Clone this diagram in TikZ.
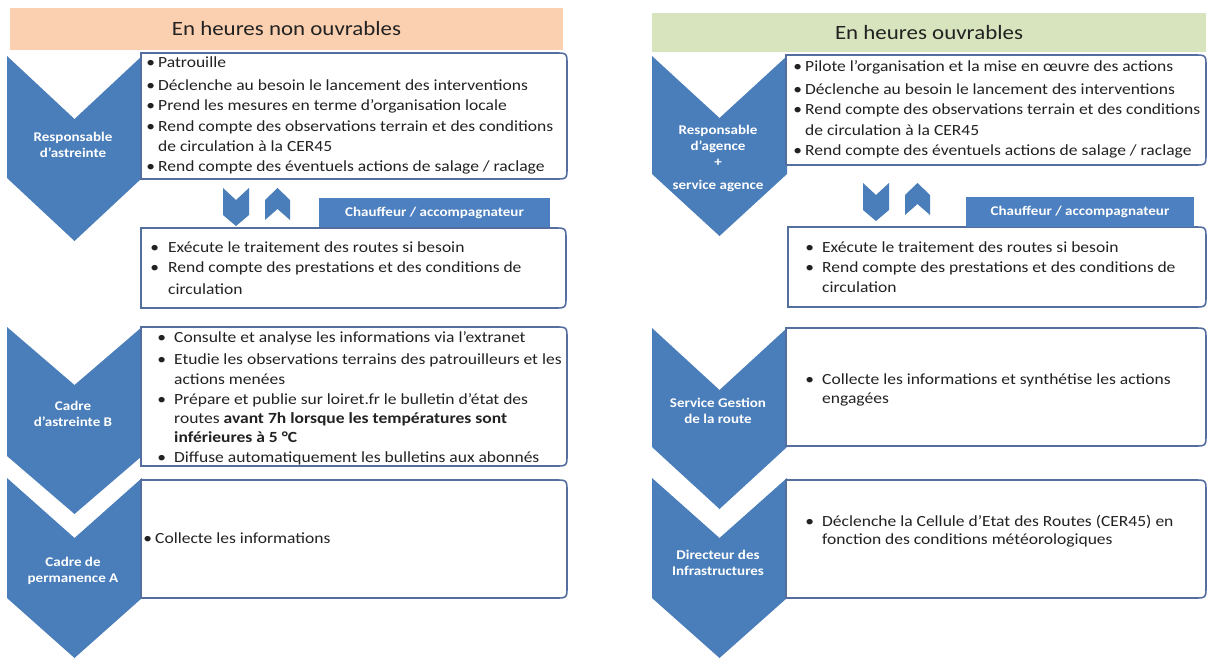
\documentclass[tikz,border=0pt]{standalone}
\usepackage{fontspec}
\setmainfont{Carlito}[FakeStretch=1.13]
\definecolor{chevc}{RGB}{74,126,187}
\definecolor{boxc}{RGB}{84,110,160}
\definecolor{labc}{RGB}{76,128,192}
\definecolor{txtc}{RGB}{34,34,34}
\definecolor{hdrorange}{RGB}{251,208,176}
\definecolor{hdrgreen}{RGB}{215,228,189}
\newcommand{\bl}[1]{\llap{\textbullet\hspace{#1pt}}}
\newcommand{\chev}[5]{\fill[chevst] (#1,#3) -- ({(#1+#2)/2},{#3+#5}) -- (#2,#3) -- (#2,#4) -- ({(#1+#2)/2},{#4+#5}) -- (#1,#4) -- cycle;}
\newcommand{\rbox}[4]{\draw[boxst] (#1,#2) -- ({#3-12},#2) .. controls (#3,#2) .. (#3,{#2+12}) -- (#3,{#4-12}) .. controls (#3,#4) .. ({#3-12},#4) -- (#1,#4) -- cycle;}
\tikzset{
  chevst/.style={fill=chevc},
  boxst/.style={draw=boxc, line width=1.6pt, fill=white},
  txt/.style={anchor=west, inner sep=0pt, text=txtc, font=\fontsize{15.5}{19}\selectfont},
  ctxt/.style={align=center, inner sep=0pt, text=white, font=\bfseries\fontsize{13.3}{16}\selectfont},
  hdr/.style={inner sep=0pt, text=txtc, font=\fontsize{20.3}{24}\selectfont},
  lab/.style={fill=labc, inner sep=0pt, text=white, font=\bfseries\fontsize{13.3}{16}\selectfont}
}
\begin{document}
\begin{tikzpicture}[x=1pt,y=-1pt]
\useasboundingbox (0,0) rectangle (1208,662);
\fill[white] (0,0) rectangle (1208,662);

% headers
\node[hdr, fill=hdrorange, minimum width=553pt, minimum height=42pt] (h1) at (286.5,29) {En heures non ouvrables};
\node[hdr, fill=hdrgreen, minimum width=554pt, minimum height=39pt] (h2) at (929,32.5) {En heures ouvrables};

% big chevrons, left
\chev{7}{142}{56}{178}{63}
\chev{7}{142}{327}{456}{58}
\chev{7}{142}{478}{598}{60}
% big chevrons, right
\chev{652}{787}{56}{174}{62}
\chev{652}{787}{328}{447}{62}
\chev{652}{787}{478}{598}{60}

% boxes left
\rbox{141}{53}{567}{179}
\rbox{141}{228}{566}{308}
\rbox{141}{327}{567}{466}
\rbox{141}{480}{567}{598}
% boxes right
\rbox{786}{55}{1206}{165}
\rbox{788}{227}{1206}{307}
\rbox{786}{328}{1206}{446}
\rbox{786}{480}{1206}{598}

% labels
\node[lab, minimum width=231pt, minimum height=29pt] (lab1) at (434.5,212.5) {Chauffeur / accompagnateur};
\node[lab, minimum width=228pt, minimum height=30pt] (lab2) at (1080,212) {Chauffeur / accompagnateur};

% small chevrons
\fill[chevst] (223,188) -- (236,200) -- (249,188) -- (249,215) -- (236,226) -- (223,215) -- cycle;
\fill[chevst] (265,200) -- (277.5,188) -- (290,200) -- (290,220) -- (277.5,209) -- (265,220) -- cycle;
\begin{scope}[shift={(640,-5)}]
\fill[chevst] (223,188) -- (236,200) -- (249,188) -- (249,215) -- (236,226) -- (223,215) -- cycle;
\fill[chevst] (265,200) -- (277.5,188) -- (290,200) -- (290,220) -- (277.5,209) -- (265,220) -- cycle;
\end{scope}

% chevron texts
\node[ctxt] (c1) at (73,145) {Responsable\\d’astreinte};
\node[ctxt] (c2) at (73,414) {Cadre\\d’astreinte B};
\node[ctxt] (c3) at (73,571) {Cadre de\\permanence A};
\node[ctxt] (rc1) at (718,158) {Responsable\\d’agence\\+\\[7pt]service agence};
\node[ctxt] (rc2) at (718,411) {Service Gestion\\de la route};
\node[ctxt] (rc3) at (718,563) {Directeur des\\Infrastructures};

% left box 1
\node[txt] (t1a) at (158,62) {\bl{3}Patrouille};
\node[txt] (t1b) at (158,85) {\bl{3}Déclenche au besoin le lancement des interventions};
\node[txt] (t1c) at (158,106) {\bl{3}Prend les mesures en terme d’organisation locale};
\node[txt] (t1d) at (158,127) {\bl{3}Rend compte des observations terrain et des conditions};
\node[txt] (t1e) at (158,146) {de circulation à la CER45};
\node[txt] (t1f) at (158,167) {\bl{3}Rend compte des éventuels actions de salage / raclage};
% left box 2
\node[txt] (t2a) at (168,247) {\bl{9}Exécute le traitement des routes si besoin};
\node[txt] (t2b) at (168,268) {\bl{9}Rend compte des prestations et des conditions de};
\node[txt] (t2c) at (168,289) {circulation};
% left box 3
\node[txt] (t3a) at (174,338) {\bl{8}Consulte et analyse les informations via l’extranet};
\node[txt] (t3b) at (174,360) {\bl{8}Etudie les observations terrains des patrouilleurs et les};
\node[txt] (t3c) at (174,379) {actions menées};
\node[txt] (t3d) at (174,400) {\bl{8}Prépare et publie sur loiret.fr le bulletin d’état des};
\node[txt] (t3e) at (174,419) {routes \textbf{avant 7h lorsque les températures sont}};
\node[txt] (t3f) at (174,437) {\textbf{inférieures à 5 °C}};
\node[txt] (t3g) at (174,458) {\bl{8}Diffuse automatiquement les bulletins aux abonnés};
% left box 4
\node[txt] (t4a) at (155,538) {\bl{3}Collecte les informations};

% right box 1
\node[txt] (r1a) at (805,67) {\bl{3}Pilote l’organisation et la mise en œuvre des actions};
\node[txt] (r1b) at (805,89) {\bl{3}Déclenche au besoin le lancement des interventions};
\node[txt] (r1c) at (805,110) {\bl{3}Rend compte des observations terrain et des conditions};
\node[txt] (r1d) at (805,130) {de circulation à la CER45};
\node[txt] (r1e) at (805,151) {\bl{3}Rend compte des éventuels actions de salage / raclage};
% right box 2
\node[txt] (r2a) at (822,247) {\bl{8}Exécute le traitement des routes si besoin};
\node[txt] (r2b) at (822,268) {\bl{8}Rend compte des prestations et des conditions de};
\node[txt] (r2c) at (822,287) {circulation};
% right box 3
\node[txt] (r3a) at (822,380) {\bl{8}Collecte les informations et synthétise les actions};
\node[txt] (r3b) at (822,400) {engagées};
% right box 4
\node[txt] (r4a) at (822,522) {\bl{8}Déclenche la Cellule d’Etat des Routes (CER45) en};
\node[txt] (r4b) at (822,540) {fonction des conditions météorologiques};
\end{tikzpicture}
\end{document}
